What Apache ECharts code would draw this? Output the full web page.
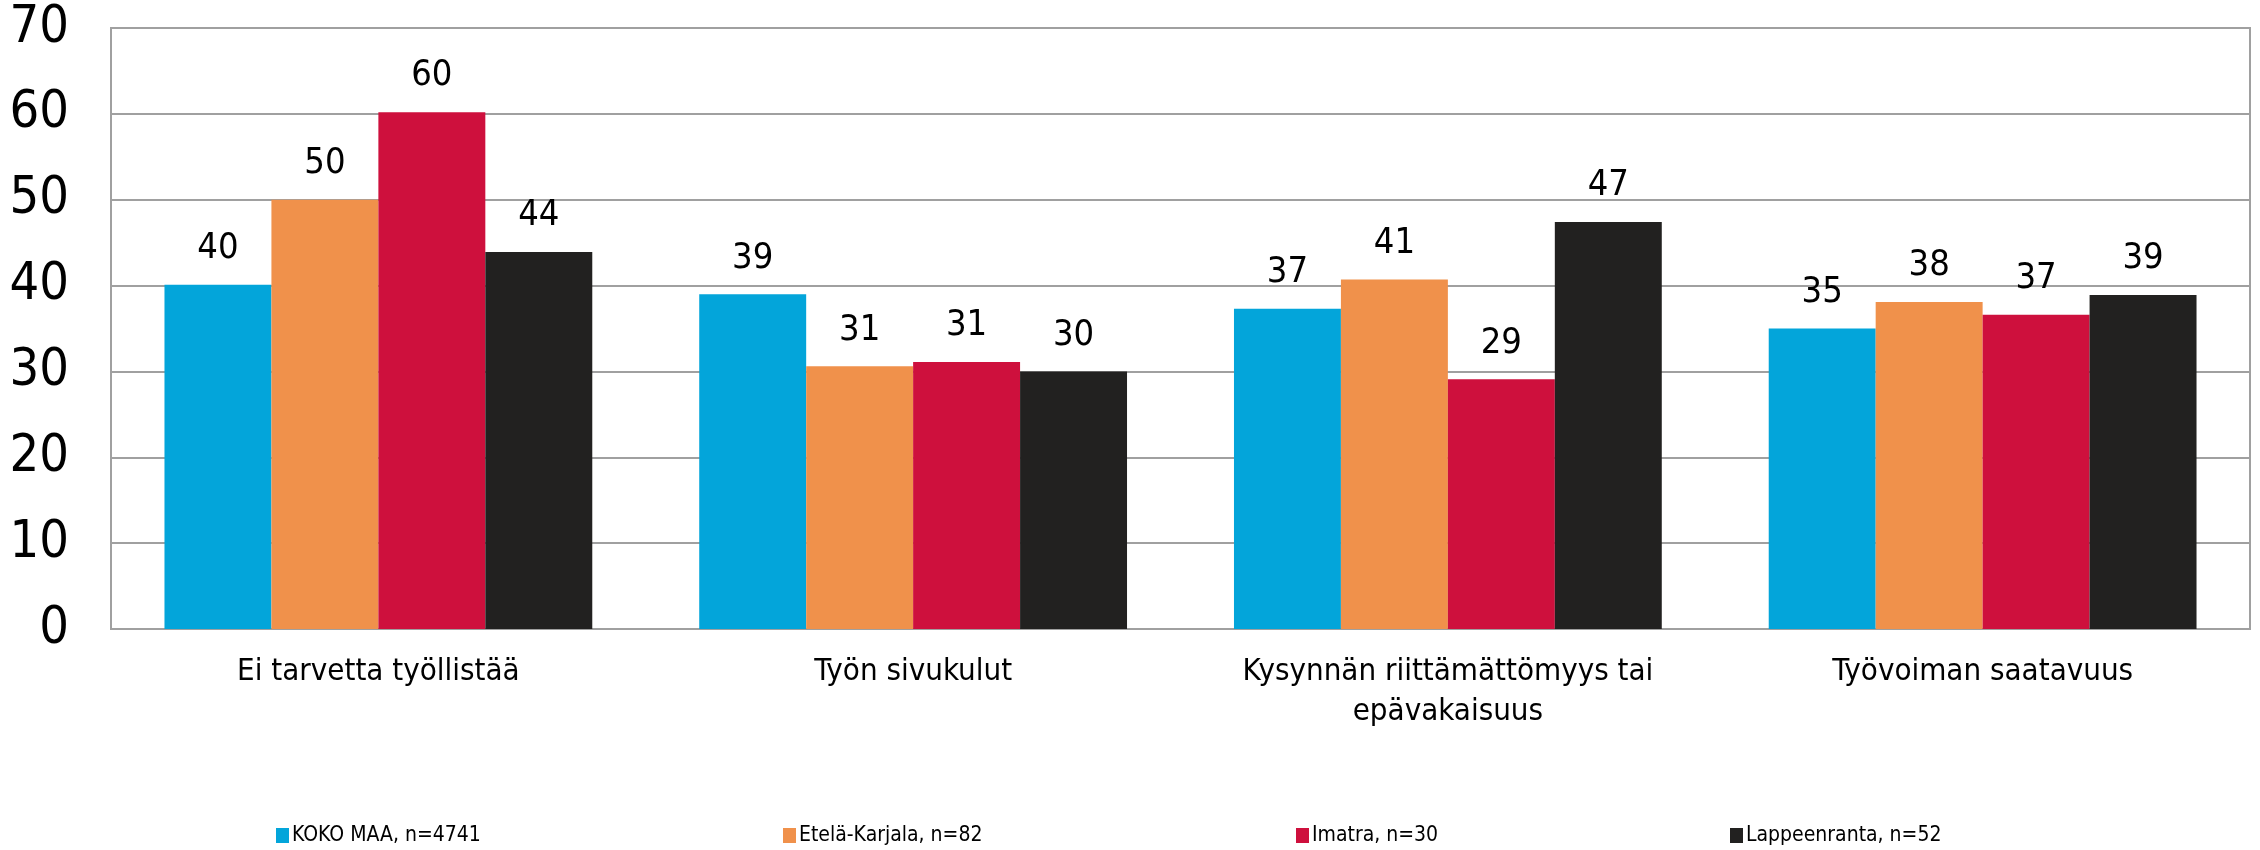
<!DOCTYPE html>
<html>
<head>
<meta charset="utf-8">
<script src="https://cdn.jsdelivr.net/npm/echarts@6/dist/echarts.min.js"></script>
<style>
  html, body { margin: 0; padding: 0; background: #fff; }
  #chart { width: 2260px; height: 850px; }
</style>
</head>
<body>
<div id="chart"></div>
<script>
// data
const categories = [
  'Ei tarvetta työllistää',
  'Työn sivukulut',
  'Kysynnän riittämättömyys tai\nepävakaisuus',
  'Työvoiman saatavuus'
];
const seriesNames = ['KOKO MAA, n=4741', 'Etelä-Karjala, n=82', 'Imatra, n=30', 'Lappeenranta, n=52'];
const kokoMaa = [40.1, 39.0, 37.3, 35.0];
const etelaKarjala = [50.0, 30.6, 40.7, 38.1];
const imatra = [60.2, 31.1, 29.1, 36.6];
const lappeenranta = [43.9, 30.0, 47.4, 38.9];
const colors = ['#03a5da', '#f0914b', '#ce103d', '#222120'];
const legendLeft = [271, 778, 1291, 1725];

const font = '"DejaVu Sans Condensed", "DejaVu Sans", sans-serif';
const values = [kokoMaa, etelaKarjala, imatra, lappeenranta];

const chart = echarts.init(document.getElementById('chart'));
chart.setOption({
  animation: false,
  grid: {
    left: 111, right: 10, top: 28, bottom: 221,
    show: true, borderColor: '#a0a0a0', borderWidth: 2
  },
  legend: seriesNames.map((n, i) => ({
    data: [n],
    left: legendLeft[i],
    top: 820,
    itemWidth: 13,
    itemHeight: 15,
    itemGap: 0,
    icon: 'rect',
    textStyle: { fontFamily: font, fontSize: 21, color: '#000', padding: [0, 0, 0, -2] }
  })),
  xAxis: {
    type: 'category',
    data: categories,
    axisLine: { lineStyle: { color: '#a0a0a0', width: 2 } },
    axisTick: { show: false },
    axisLabel: {
      color: '#000', fontFamily: font, fontSize: 31, lineHeight: 40, margin: 23
    }
  },
  yAxis: {
    type: 'value',
    min: 0, max: 70, interval: 10,
    axisLine: { show: true, lineStyle: { color: '#a0a0a0', width: 2 } },
    axisTick: { show: false },
    splitLine: { lineStyle: { color: '#a0a0a0', width: 2 } },
    axisLabel: { color: '#000', fontFamily: font, fontSize: 52, margin: 42 }
  },
  series: seriesNames.map((n, i) => ({
    name: n,
    type: 'bar',
    data: values[i],
    barGap: '0%',
    barCategoryGap: '20%',
    itemStyle: { color: colors[i] },
    label: {
      show: true,
      position: 'top',
      distance: 18,
      color: '#000',
      fontFamily: font,
      fontSize: 36,
      formatter: p => Math.round(p.value)
    }
  }))
});
</script>
</body>
</html>
